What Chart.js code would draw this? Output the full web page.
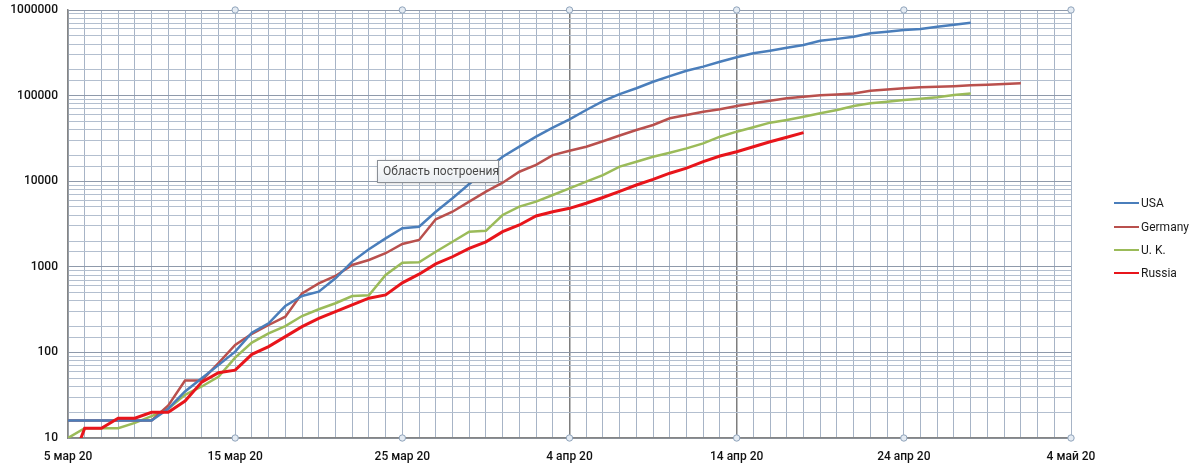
<!DOCTYPE html>
<html>
<head>
<meta charset="utf-8">
<script src="https://cdn.jsdelivr.net/npm/chart.js@4.4.0/dist/chart.umd.min.js"></script>
<style>
  html, body { margin: 0; padding: 0; background: #fff; }
  #wrap { width: 1200px; height: 471px; position: relative; }
</style>
</head>
<body>
<div id="wrap"><canvas id="chart"></canvas></div>
<script>
// day 0 = 5 мар 20, one value per day
const tickLabels = ['5 мар 20', '15 мар 20', '25 мар 20', '4 апр 20', '14 апр 20', '24 апр 20', '4 май 20'];
const seriesNames = ['USA', 'Germany', 'U. K.', 'Russia'];

const usa = [16, 16, 16, 16, 16, 16, 22, 35, 50, 71,
    102, 170, 219, 348, 456, 512, 734, 1150, 1600, 2150,
    2820, 2940, 4400, 6310, 9270, 13500, 19300, 25300, 33100, 42200,
    52800, 67900, 86000, 104000, 122000, 145000, 169000, 195000, 218000, 249000,
    280000, 312000, 335000, 363000, 390000, 438000, 460000, 488000, 535000, 558000,
    584000, 600000, 638000, 673000, 711000];

const germany = [16, 16, 16, 16, 16, 16, 24, 47, 47, 75,
    122, 165, 209, 261, 490, 641, 781, 1050, 1200, 1440,
    1850, 2060, 3590, 4400, 5770, 7540, 9610, 12900, 15500, 20200,
    22700, 25300, 29300, 34200, 39700, 45400, 54300, 59300, 64800, 69200,
    75600, 81300, 87100, 93000, 97000, 101000, 103000, 106000, 114000, 118000,
    122000, 125000, 127000, 129000, 132000, 134000, 137000, 139000];

const uk = [10, 13, 13, 13, 15, 18, 22, 32, 40, 52,
    87, 130, 167, 203, 266, 319, 375, 455, 465, 802,
    1117, 1130, 1500, 1964, 2570, 2630, 4030, 5040, 5770, 6900,
    8260, 9870, 11800, 14800, 16900, 19300, 21500, 24200, 27700, 33100,
    37900, 42600, 48300, 51800, 56700, 62100, 68000, 75600, 81300, 84900,
    88900, 92100, 95500, 101600, 106000];

const russia = [4, 13, 13, 17, 17, 20, 20, 27, 45, 58,
    62, 95, 117, 153, 200, 250, 300, 360, 430, 470,
    650, 820, 1080, 1310, 1640, 1960, 2570, 3080, 3920, 4400,
    4820, 5520, 6450, 7600, 9030, 10500, 12400, 14200, 16900, 19700,
    22100, 25300, 28900, 32600, 36900];

const colors = ['#4a7ebb', '#b9504d', '#9bbb59', '#e8151b'];
const widths = [2.5, 2.5, 2.5, 3];

const toPoints = arr => arr.map((v, i) => ({ x: i, y: v }));
const allSeries = [usa, germany, uk, russia];

const isDecade = v => {
    const l = Math.log10(v);
    return Math.abs(l - Math.round(l)) < 1e-9;
};

const overlay = {
    id: 'overlay',
    afterDraw(chart) {
        const ctx = chart.ctx;
        const xs = chart.scales.x;
        const area = chart.chartArea;
        ctx.save();

        // little selection handles on the major days
        for (let d = 10; d <= 60; d += 10) {
            const px = xs.getPixelForValue(d);
            [area.top, area.bottom].forEach(py => {
                ctx.beginPath();
                ctx.arc(px, py, 3.2, 0, Math.PI * 2);
                ctx.fillStyle = '#e4ebf3';
                ctx.fill();
                ctx.lineWidth = 1;
                ctx.strokeStyle = '#8fa3ba';
                ctx.stroke();
            });
        }

        // legend
        ctx.font = '12px Roboto';
        ctx.textBaseline = 'middle';
        const legendY = [203, 227, 250, 273];
        seriesNames.forEach((name, i) => {
            ctx.strokeStyle = colors[i];
            ctx.lineWidth = 2;
            ctx.beginPath();
            ctx.moveTo(1114, legendY[i]);
            ctx.lineTo(1139, legendY[i]);
            ctx.stroke();
            ctx.fillStyle = '#1a1a1a';
            ctx.fillText(name, 1141, legendY[i] + 1);
        });

        // "plot area" hint box
        const bx = 377, by = 160, bw = 121, bh = 22;
        ctx.shadowColor = 'rgba(0,0,0,0.25)';
        ctx.shadowBlur = 3;
        ctx.shadowOffsetX = 1;
        ctx.shadowOffsetY = 1;
        const g = ctx.createLinearGradient(0, by, 0, by + bh);
        g.addColorStop(0, '#ffffff');
        g.addColorStop(1, '#e8ecf1');
        ctx.fillStyle = g;
        ctx.fillRect(bx, by, bw, bh);
        ctx.shadowColor = 'transparent';
        ctx.strokeStyle = '#8a8f96';
        ctx.lineWidth = 1;
        ctx.strokeRect(bx + 0.5, by + 0.5, bw, bh);
        ctx.fillStyle = '#4a4a4a';
        ctx.font = '12px Roboto';
        ctx.fillText('Область построения', bx + 6, by + bh / 2 + 1);

        ctx.restore();
    }
};

new Chart(document.getElementById('chart'), {
    type: 'line',
    data: {
        datasets: allSeries.map((s, i) => ({
            label: seriesNames[i],
            data: toPoints(s),
            borderColor: colors[i],
            backgroundColor: colors[i],
            borderWidth: widths[i],
            pointRadius: 0,
            tension: 0,
            fill: false,
            order: i === 3 ? 0 : i + 1
        }))
    },
    options: {
        responsive: true,
        maintainAspectRatio: false,
        animation: false,
        layout: { padding: { top: 10, right: 129, bottom: 0, left: 0 } },
        plugins: {
            legend: { display: false },
            tooltip: { enabled: false }
        },
        scales: {
            x: {
                type: 'linear',
                min: 0,
                max: 60,
                afterFit(scale) { scale.height = 33; },
                ticks: {
                    stepSize: 1,
                    maxTicksLimit: 100,
                    autoSkip: false,
                    maxRotation: 0,
                    padding: 12,
                    color: '#111',
                    font: { family: 'Roboto', size: 12, weight: '500' },
                    callback: v => (v % 10 === 0 ? tickLabels[v / 10] : '')
                },
                grid: {
                    drawTicks: false,
                    color: ctx => (ctx.tick && (ctx.tick.value === 30 || ctx.tick.value === 40)) ? '#7d7d7d' : '#a7b4c6',
                    lineWidth: ctx => (ctx.tick && (ctx.tick.value === 30 || ctx.tick.value === 40)) ? 1.5 : 1
                },
                border: { display: true, color: '#858585', width: 1.5 }
            },
            y: {
                type: 'logarithmic',
                min: 10,
                max: 1000000,
                afterFit(scale) { scale.width = 68; },
                ticks: {
                    autoSkip: false,
                    padding: 0,
                    color: '#111',
                    font: { family: 'Roboto', size: 12, weight: '500' },
                    callback: v => (isDecade(v) ? String(Math.round(v)) : '')
                },
                grid: {
                    drawTicks: true,
                    tickLength: 10,
                    tickColor: 'rgba(0,0,0,0)',
                    color: ctx => (ctx.tick && isDecade(ctx.tick.value)) ? '#8f9aab' : '#b3bfcf'
                },
                border: { display: true, color: '#858585', width: 1.5 }
            }
        }
    },
    plugins: [overlay]
});
</script>
</body>
</html>
